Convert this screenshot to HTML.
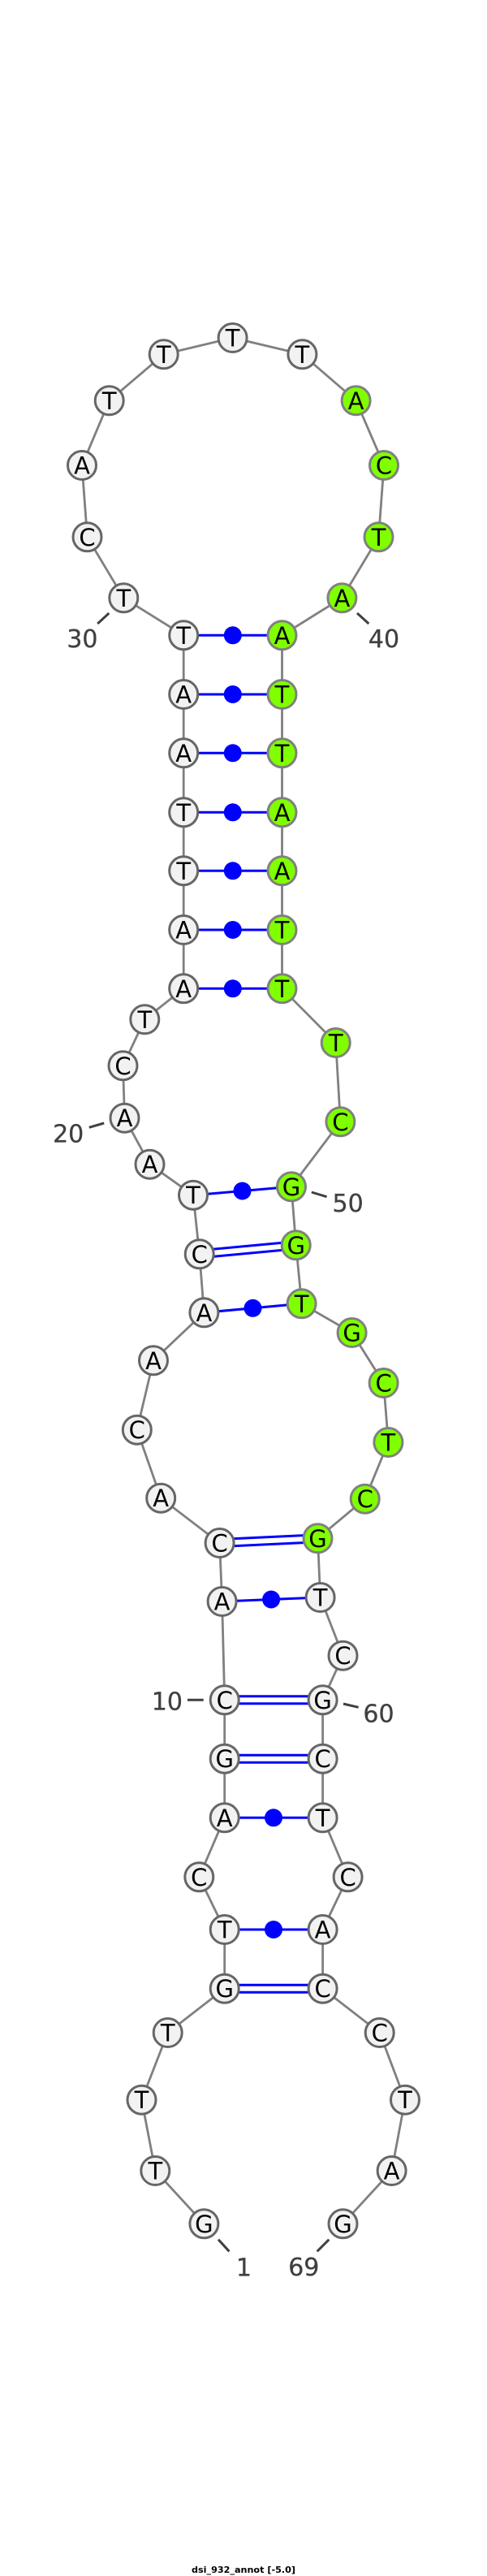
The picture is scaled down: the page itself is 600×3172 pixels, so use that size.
<!DOCTYPE html>
<html>
<head>
<meta charset="utf-8">
<style>
html,body{margin:0;padding:0;background:#fff;width:600px;height:3172px;overflow:hidden}
svg{display:block}
.p line{stroke:#0000ff;stroke-width:3;fill:none}
.d circle{fill:#0000ff;stroke:none}
.w circle{fill:#f2f2f2;stroke:#666;stroke-width:3}
.g circle{fill:#80ff00;stroke:#808080;stroke-width:3}
.l text{font-family:"DejaVu Sans",sans-serif;font-size:29px;fill:#000;text-anchor:middle}
.n text{font-family:"DejaVu Sans",sans-serif;font-size:30px;fill:#404040;stroke:#404040;stroke-width:.3;text-anchor:middle}
.t line{stroke:#404040;stroke-width:3}
</style>
</head>
<body>
<svg width="600" height="3172" viewBox="0 0 600 3172" xmlns="http://www.w3.org/2000/svg">
<rect width="600" height="3172" fill="#fff"/>
<polyline points="251.4,2738.3 191.3,2673 174.5,2585.7 206.7,2503 276.7,2448.7 276.7,2376 245.3,2311.3 276.7,2238.3 276.7,2165.7 276.7,2093.3 273.6,1972 270.6,1900 198.2,1844.7 168.8,1760.7 189,1675.3 251.4,1616.3 245.7,1544.3 238,1471.7 184.5,1433.7 153.5,1376.7 151.5,1312.3 178.3,1255.3 226.2,1217.3 226.2,1145 226.2,1072.3 226.2,1000.3 226.2,927.3 226.2,855 226.2,782.3 152.3,736.3 107.5,661.3 101,573 134.7,493.3 201.7,436.3 286.6,416 372.4,436.3 438.6,493.3 473,573 466.5,661.3 421.4,736.3 347.5,782.3 347.5,855 347.5,927.3 347.5,1000.3 347.5,1072.3 347.5,1145 347.5,1217.3 413.7,1284 419.4,1381.3 359,1461.3 364.7,1533.3 371.6,1605.3 433.6,1641 472.6,1703 478.4,1776 449.7,1845.7 391.5,1894.3 394.6,1967 422.5,2038.7 397.6,2093.3 397.6,2165.7 397.6,2238.3 428.6,2311.3 397.6,2376 397.6,2448.7 467.7,2503 499,2585.7 482.6,2673 422.5,2738.3" fill="none" stroke="#808080" stroke-width="2.8"/>
<g class="p">
<line x1="226.2" y1="782.3" x2="347.5" y2="782.3"/>
<line x1="226.2" y1="855" x2="347.5" y2="855"/>
<line x1="226.2" y1="927.3" x2="347.5" y2="927.3"/>
<line x1="226.2" y1="1000.3" x2="347.5" y2="1000.3"/>
<line x1="226.2" y1="1072.3" x2="347.5" y2="1072.3"/>
<line x1="226.2" y1="1145" x2="347.5" y2="1145"/>
<line x1="226.2" y1="1217.3" x2="347.5" y2="1217.3"/>
<line x1="238" y1="1471.7" x2="359" y2="1461.3"/>
<line x1="245.3" y1="1539.8" x2="364.3" y2="1528.8"/>
<line x1="246.1" y1="1548.8" x2="365.1" y2="1537.8"/>
<line x1="251.4" y1="1616.3" x2="371.6" y2="1605.3"/>
<line x1="270.4" y1="1895.5" x2="391.3" y2="1889.8"/>
<line x1="270.8" y1="1904.5" x2="391.7" y2="1898.8"/>
<line x1="273.6" y1="1972" x2="394.6" y2="1967"/>
<line x1="276.7" y1="2088.8" x2="397.6" y2="2088.8"/>
<line x1="276.7" y1="2097.8" x2="397.6" y2="2097.8"/>
<line x1="276.7" y1="2161.2" x2="397.6" y2="2161.2"/>
<line x1="276.7" y1="2170.2" x2="397.6" y2="2170.2"/>
<line x1="276.7" y1="2238.3" x2="397.6" y2="2238.3"/>
<line x1="276.7" y1="2376" x2="397.6" y2="2376"/>
<line x1="276.7" y1="2444.2" x2="397.6" y2="2444.2"/>
<line x1="276.7" y1="2453.2" x2="397.6" y2="2453.2"/>
</g>
<g class="d">
<circle cx="286.8" cy="782.3" r="11"/>
<circle cx="286.8" cy="855" r="11"/>
<circle cx="286.8" cy="927.3" r="11"/>
<circle cx="286.8" cy="1000.3" r="11"/>
<circle cx="286.8" cy="1072.3" r="11"/>
<circle cx="286.8" cy="1145" r="11"/>
<circle cx="286.8" cy="1217.3" r="11"/>
<circle cx="298.5" cy="1466.5" r="11"/>
<circle cx="311.5" cy="1610.8" r="11"/>
<circle cx="334.1" cy="1969.5" r="11"/>
<circle cx="337" cy="2238.3" r="11"/>
<circle cx="337" cy="2376" r="11"/>
</g>
<g class="w">
<circle cx="251.4" cy="2738.3" r="17.5"/><circle cx="191.3" cy="2673" r="17.5"/><circle cx="174.5" cy="2585.7" r="17.5"/><circle cx="206.7" cy="2503" r="17.5"/><circle cx="276.7" cy="2448.7" r="17.5"/><circle cx="276.7" cy="2376" r="17.5"/><circle cx="245.3" cy="2311.3" r="17.5"/><circle cx="276.7" cy="2238.3" r="17.5"/><circle cx="276.7" cy="2165.7" r="17.5"/><circle cx="276.7" cy="2093.3" r="17.5"/><circle cx="273.6" cy="1972" r="17.5"/><circle cx="270.6" cy="1900" r="17.5"/><circle cx="198.2" cy="1844.7" r="17.5"/><circle cx="168.8" cy="1760.7" r="17.5"/><circle cx="189" cy="1675.3" r="17.5"/><circle cx="251.4" cy="1616.3" r="17.5"/><circle cx="245.7" cy="1544.3" r="17.5"/><circle cx="238" cy="1471.7" r="17.5"/><circle cx="184.5" cy="1433.7" r="17.5"/><circle cx="153.5" cy="1376.7" r="17.5"/><circle cx="151.5" cy="1312.3" r="17.5"/><circle cx="178.3" cy="1255.3" r="17.5"/><circle cx="226.2" cy="1217.3" r="17.5"/><circle cx="226.2" cy="1145" r="17.5"/><circle cx="226.2" cy="1072.3" r="17.5"/><circle cx="226.2" cy="1000.3" r="17.5"/><circle cx="226.2" cy="927.3" r="17.5"/><circle cx="226.2" cy="855" r="17.5"/><circle cx="226.2" cy="782.3" r="17.5"/><circle cx="152.3" cy="736.3" r="17.5"/><circle cx="107.5" cy="661.3" r="17.5"/><circle cx="101" cy="573" r="17.5"/><circle cx="134.7" cy="493.3" r="17.5"/><circle cx="201.7" cy="436.3" r="17.5"/><circle cx="286.6" cy="416" r="17.5"/><circle cx="372.4" cy="436.3" r="17.5"/>
<circle cx="394.6" cy="1967" r="17.5"/><circle cx="422.5" cy="2038.7" r="17.5"/><circle cx="397.6" cy="2093.3" r="17.5"/><circle cx="397.6" cy="2165.7" r="17.5"/><circle cx="397.6" cy="2238.3" r="17.5"/><circle cx="428.6" cy="2311.3" r="17.5"/><circle cx="397.6" cy="2376" r="17.5"/><circle cx="397.6" cy="2448.7" r="17.5"/><circle cx="467.7" cy="2503" r="17.5"/><circle cx="499" cy="2585.7" r="17.5"/><circle cx="482.6" cy="2673" r="17.5"/><circle cx="422.5" cy="2738.3" r="17.5"/>
</g>
<g class="g">
<circle cx="438.6" cy="493.3" r="17.5"/><circle cx="473" cy="573" r="17.5"/><circle cx="466.5" cy="661.3" r="17.5"/><circle cx="421.4" cy="736.3" r="17.5"/><circle cx="347.5" cy="782.3" r="17.5"/><circle cx="347.5" cy="855" r="17.5"/><circle cx="347.5" cy="927.3" r="17.5"/><circle cx="347.5" cy="1000.3" r="17.5"/><circle cx="347.5" cy="1072.3" r="17.5"/><circle cx="347.5" cy="1145" r="17.5"/><circle cx="347.5" cy="1217.3" r="17.5"/><circle cx="413.7" cy="1284" r="17.5"/><circle cx="419.4" cy="1381.3" r="17.5"/><circle cx="359" cy="1461.3" r="17.5"/><circle cx="364.7" cy="1533.3" r="17.5"/><circle cx="371.6" cy="1605.3" r="17.5"/><circle cx="433.6" cy="1641" r="17.5"/><circle cx="472.6" cy="1703" r="17.5"/><circle cx="478.4" cy="1776" r="17.5"/><circle cx="449.7" cy="1845.7" r="17.5"/><circle cx="391.5" cy="1894.3" r="17.5"/>
</g>
<g class="l" transform="translate(0,.5)">
<text x="251.4" y="2748.3">G</text><text x="191.3" y="2683">T</text><text x="174.5" y="2595.7">T</text><text x="206.7" y="2513">T</text><text x="276.7" y="2458.7">G</text><text x="276.7" y="2386">T</text><text x="245.3" y="2321.3">C</text><text x="276.7" y="2248.3">A</text><text x="276.7" y="2175.7">G</text><text x="276.7" y="2103.3">C</text><text x="273.6" y="1982">A</text><text x="270.6" y="1910">C</text><text x="198.2" y="1854.7">A</text><text x="168.8" y="1770.7">C</text><text x="189" y="1685.3">A</text><text x="251.4" y="1626.3">A</text><text x="245.7" y="1554.3">C</text><text x="238" y="1481.7">T</text><text x="184.5" y="1443.7">A</text><text x="153.5" y="1386.7">A</text><text x="151.5" y="1322.3">C</text><text x="178.3" y="1265.3">T</text><text x="226.2" y="1227.3">A</text><text x="226.2" y="1155">A</text><text x="226.2" y="1082.3">T</text><text x="226.2" y="1010.3">T</text><text x="226.2" y="937.3">A</text><text x="226.2" y="865">A</text><text x="226.2" y="792.3">T</text><text x="152.3" y="746.3">T</text><text x="107.5" y="671.3">C</text><text x="101" y="583">A</text><text x="134.7" y="503.3">T</text><text x="201.7" y="446.3">T</text><text x="286.6" y="426">T</text><text x="372.4" y="446.3">T</text><text x="438.6" y="503.3">A</text><text x="473" y="583">C</text><text x="466.5" y="671.3">T</text><text x="421.4" y="746.3">A</text><text x="347.5" y="792.3">A</text><text x="347.5" y="865">T</text><text x="347.5" y="937.3">T</text><text x="347.5" y="1010.3">A</text><text x="347.5" y="1082.3">A</text><text x="347.5" y="1155">T</text><text x="347.5" y="1227.3">T</text><text x="413.7" y="1294">T</text><text x="419.4" y="1391.3">C</text><text x="359" y="1471.3">G</text><text x="364.7" y="1543.3">G</text><text x="371.6" y="1615.3">T</text><text x="433.6" y="1651">G</text><text x="472.6" y="1713">C</text><text x="478.4" y="1786">T</text><text x="449.7" y="1855.7">C</text><text x="391.5" y="1904.3">G</text><text x="394.6" y="1977">T</text><text x="422.5" y="2048.7">C</text><text x="397.6" y="2103.3">G</text><text x="397.6" y="2175.7">C</text><text x="397.6" y="2248.3">T</text><text x="428.6" y="2321.3">C</text><text x="397.6" y="2386">A</text><text x="397.6" y="2458.7">C</text><text x="467.7" y="2513">C</text><text x="499" y="2595.7">T</text><text x="482.6" y="2683">A</text><text x="422.5" y="2748.3">G</text>
</g>
<g class="t">
<line x1="269" y1="2757.7" x2="282.4" y2="2772.3"/>
<line x1="405.3" y1="2757.7" x2="390.7" y2="2772.3"/>
<line x1="134.3" y1="755" x2="120.2" y2="768"/>
<line x1="440" y1="755" x2="454.3" y2="768"/>
<line x1="109.8" y1="1388.3" x2="128.2" y2="1383"/>
<line x1="383.8" y1="1468" x2="402.6" y2="1473.7"/>
<line x1="231" y1="2093.3" x2="250.7" y2="2093.3"/>
<line x1="423" y1="2098" x2="441.6" y2="2102.3"/>
</g>
<g class="n">
<text x="300.4" y="2802.3">1</text>
<text x="374.3" y="2802">69</text>
<text x="101.4" y="797">30</text>
<text x="473" y="797">40</text>
<text x="84.2" y="1406.3">20</text>
<text x="428.6" y="1492">50</text>
<text x="205.9" y="2105.3">10</text>
<text x="466.5" y="2120.3">60</text>
</g>
<text x="236" y="3168" textLength="128" lengthAdjust="spacingAndGlyphs" font-family="'DejaVu Sans',sans-serif" font-weight="bold" font-size="11" fill="#000">dsi_932_annot [-5.0]</text>
</svg>
</body>
</html>
